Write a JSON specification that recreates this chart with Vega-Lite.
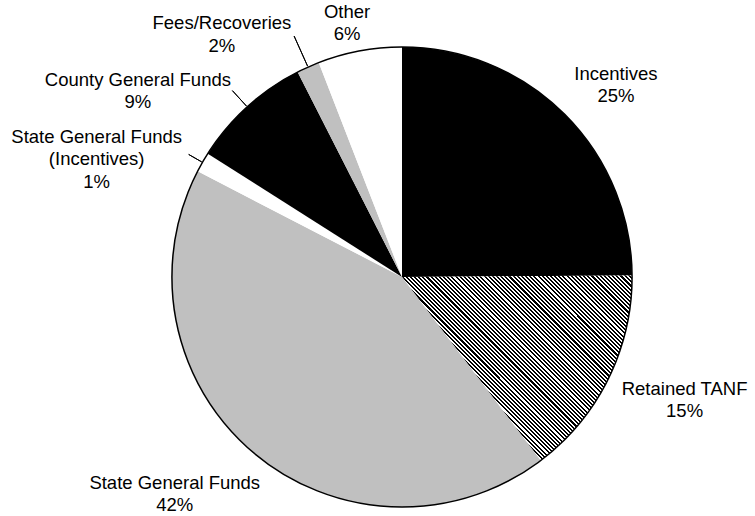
{
  "$schema": "https://vega.github.io/schema/vega-lite/v6.json",
  "width": 706,
  "height": 478,
  "autosize": {"type": "none"},
  "padding": {"left": 49, "top": 38, "right": 0, "bottom": 0},
  "background": "white",
  "config": {
    "view": {"stroke": null},
    "text": {"font": "Liberation Sans", "fontSize": 18.5, "lineBreak": "\n", "lineHeight": 22.5, "align": "center", "baseline": "middle", "color": "#000"}
  },
  "data": {
    "values": [
      {"cat": "Incentives", "share": 24.9, "ord": 1, "label": "Incentives\n25%"},
      {"cat": "Retained TANF", "share": 14.8, "ord": 2, "label": "Retained TANF\n15%"},
      {"cat": "State General Funds", "share": 42.9, "ord": 3, "label": "State General Funds\n42%"},
      {"cat": "State General Funds (Incentives)", "share": 1.4, "ord": 4, "label": "State General Funds\n(Incentives)\n1%"},
      {"cat": "County General Funds", "share": 8.5, "ord": 5, "label": "County General Funds\n9%"},
      {"cat": "Fees/Recoveries", "share": 1.6, "ord": 6, "label": "Fees/Recoveries\n2%"},
      {"cat": "Other", "share": 5.9, "ord": 7, "label": "Other\n6%"}
    ]
  },
  "layer": [
    {
      "mark": {"type": "arc", "radius": 230},
      "encoding": {
        "theta": {"field": "share", "type": "quantitative", "stack": true},
        "order": {"field": "ord", "type": "quantitative"},
        "color": {
          "condition": {
            "test": "datum.cat === 'Retained TANF'",
            "value": {
              "gradient": "linear", "x1": 0, "y1": 1, "x2": 1.0957, "y2": 0.1191,
              "stops": [
{"offset":0,"color":"#000"},
{"offset":0.005,"color":"#000"},{"offset":0.005,"color":"#fff"},{"offset":0.01,"color":"#fff"},{"offset":0.01,"color":"#000"},
{"offset":0.015,"color":"#000"},{"offset":0.015,"color":"#fff"},{"offset":0.02,"color":"#fff"},{"offset":0.02,"color":"#000"},
{"offset":0.025,"color":"#000"},{"offset":0.025,"color":"#fff"},{"offset":0.03,"color":"#fff"},{"offset":0.03,"color":"#000"},
{"offset":0.035,"color":"#000"},{"offset":0.035,"color":"#fff"},{"offset":0.04,"color":"#fff"},{"offset":0.04,"color":"#000"},
{"offset":0.045,"color":"#000"},{"offset":0.045,"color":"#fff"},{"offset":0.05,"color":"#fff"},{"offset":0.05,"color":"#000"},
{"offset":0.055,"color":"#000"},{"offset":0.055,"color":"#fff"},{"offset":0.06,"color":"#fff"},{"offset":0.06,"color":"#000"},
{"offset":0.065,"color":"#000"},{"offset":0.065,"color":"#fff"},{"offset":0.07,"color":"#fff"},{"offset":0.07,"color":"#000"},
{"offset":0.075,"color":"#000"},{"offset":0.075,"color":"#fff"},{"offset":0.08,"color":"#fff"},{"offset":0.08,"color":"#000"},
{"offset":0.085,"color":"#000"},{"offset":0.085,"color":"#fff"},{"offset":0.09,"color":"#fff"},{"offset":0.09,"color":"#000"},
{"offset":0.095,"color":"#000"},{"offset":0.095,"color":"#fff"},{"offset":0.1,"color":"#fff"},{"offset":0.1,"color":"#000"},
{"offset":0.105,"color":"#000"},{"offset":0.105,"color":"#fff"},{"offset":0.11,"color":"#fff"},{"offset":0.11,"color":"#000"},
{"offset":0.115,"color":"#000"},{"offset":0.115,"color":"#fff"},{"offset":0.12,"color":"#fff"},{"offset":0.12,"color":"#000"},
{"offset":0.125,"color":"#000"},{"offset":0.125,"color":"#fff"},{"offset":0.13,"color":"#fff"},{"offset":0.13,"color":"#000"},
{"offset":0.135,"color":"#000"},{"offset":0.135,"color":"#fff"},{"offset":0.14,"color":"#fff"},{"offset":0.14,"color":"#000"},
{"offset":0.145,"color":"#000"},{"offset":0.145,"color":"#fff"},{"offset":0.15,"color":"#fff"},{"offset":0.15,"color":"#000"},
{"offset":0.155,"color":"#000"},{"offset":0.155,"color":"#fff"},{"offset":0.16,"color":"#fff"},{"offset":0.16,"color":"#000"},
{"offset":0.165,"color":"#000"},{"offset":0.165,"color":"#fff"},{"offset":0.17,"color":"#fff"},{"offset":0.17,"color":"#000"},
{"offset":0.175,"color":"#000"},{"offset":0.175,"color":"#fff"},{"offset":0.18,"color":"#fff"},{"offset":0.18,"color":"#000"},
{"offset":0.185,"color":"#000"},{"offset":0.185,"color":"#fff"},{"offset":0.19,"color":"#fff"},{"offset":0.19,"color":"#000"},
{"offset":0.195,"color":"#000"},{"offset":0.195,"color":"#fff"},{"offset":0.2,"color":"#fff"},{"offset":0.2,"color":"#000"},
{"offset":0.205,"color":"#000"},{"offset":0.205,"color":"#fff"},{"offset":0.21,"color":"#fff"},{"offset":0.21,"color":"#000"},
{"offset":0.215,"color":"#000"},{"offset":0.215,"color":"#fff"},{"offset":0.22,"color":"#fff"},{"offset":0.22,"color":"#000"},
{"offset":0.225,"color":"#000"},{"offset":0.225,"color":"#fff"},{"offset":0.23,"color":"#fff"},{"offset":0.23,"color":"#000"},
{"offset":0.235,"color":"#000"},{"offset":0.235,"color":"#fff"},{"offset":0.24,"color":"#fff"},{"offset":0.24,"color":"#000"},
{"offset":0.245,"color":"#000"},{"offset":0.245,"color":"#fff"},{"offset":0.25,"color":"#fff"},{"offset":0.25,"color":"#000"},
{"offset":0.255,"color":"#000"},{"offset":0.255,"color":"#fff"},{"offset":0.26,"color":"#fff"},{"offset":0.26,"color":"#000"},
{"offset":0.265,"color":"#000"},{"offset":0.265,"color":"#fff"},{"offset":0.27,"color":"#fff"},{"offset":0.27,"color":"#000"},
{"offset":0.275,"color":"#000"},{"offset":0.275,"color":"#fff"},{"offset":0.28,"color":"#fff"},{"offset":0.28,"color":"#000"},
{"offset":0.285,"color":"#000"},{"offset":0.285,"color":"#fff"},{"offset":0.29,"color":"#fff"},{"offset":0.29,"color":"#000"},
{"offset":0.295,"color":"#000"},{"offset":0.295,"color":"#fff"},{"offset":0.3,"color":"#fff"},{"offset":0.3,"color":"#000"},
{"offset":0.305,"color":"#000"},{"offset":0.305,"color":"#fff"},{"offset":0.31,"color":"#fff"},{"offset":0.31,"color":"#000"},
{"offset":0.315,"color":"#000"},{"offset":0.315,"color":"#fff"},{"offset":0.32,"color":"#fff"},{"offset":0.32,"color":"#000"},
{"offset":0.325,"color":"#000"},{"offset":0.325,"color":"#fff"},{"offset":0.33,"color":"#fff"},{"offset":0.33,"color":"#000"},
{"offset":0.335,"color":"#000"},{"offset":0.335,"color":"#fff"},{"offset":0.34,"color":"#fff"},{"offset":0.34,"color":"#000"},
{"offset":0.345,"color":"#000"},{"offset":0.345,"color":"#fff"},{"offset":0.35,"color":"#fff"},{"offset":0.35,"color":"#000"},
{"offset":0.355,"color":"#000"},{"offset":0.355,"color":"#fff"},{"offset":0.36,"color":"#fff"},{"offset":0.36,"color":"#000"},
{"offset":0.365,"color":"#000"},{"offset":0.365,"color":"#fff"},{"offset":0.37,"color":"#fff"},{"offset":0.37,"color":"#000"},
{"offset":0.375,"color":"#000"},{"offset":0.375,"color":"#fff"},{"offset":0.38,"color":"#fff"},{"offset":0.38,"color":"#000"},
{"offset":0.385,"color":"#000"},{"offset":0.385,"color":"#fff"},{"offset":0.39,"color":"#fff"},{"offset":0.39,"color":"#000"},
{"offset":0.395,"color":"#000"},{"offset":0.395,"color":"#fff"},{"offset":0.4,"color":"#fff"},{"offset":0.4,"color":"#000"},
{"offset":0.405,"color":"#000"},{"offset":0.405,"color":"#fff"},{"offset":0.41,"color":"#fff"},{"offset":0.41,"color":"#000"},
{"offset":0.415,"color":"#000"},{"offset":0.415,"color":"#fff"},{"offset":0.42,"color":"#fff"},{"offset":0.42,"color":"#000"},
{"offset":0.425,"color":"#000"},{"offset":0.425,"color":"#fff"},{"offset":0.43,"color":"#fff"},{"offset":0.43,"color":"#000"},
{"offset":0.435,"color":"#000"},{"offset":0.435,"color":"#fff"},{"offset":0.44,"color":"#fff"},{"offset":0.44,"color":"#000"},
{"offset":0.445,"color":"#000"},{"offset":0.445,"color":"#fff"},{"offset":0.45,"color":"#fff"},{"offset":0.45,"color":"#000"},
{"offset":0.455,"color":"#000"},{"offset":0.455,"color":"#fff"},{"offset":0.46,"color":"#fff"},{"offset":0.46,"color":"#000"},
{"offset":0.465,"color":"#000"},{"offset":0.465,"color":"#fff"},{"offset":0.47,"color":"#fff"},{"offset":0.47,"color":"#000"},
{"offset":0.475,"color":"#000"},{"offset":0.475,"color":"#fff"},{"offset":0.48,"color":"#fff"},{"offset":0.48,"color":"#000"},
{"offset":0.485,"color":"#000"},{"offset":0.485,"color":"#fff"},{"offset":0.49,"color":"#fff"},{"offset":0.49,"color":"#000"},
{"offset":0.495,"color":"#000"},{"offset":0.495,"color":"#fff"},{"offset":0.5,"color":"#fff"},{"offset":0.5,"color":"#000"},
{"offset":0.505,"color":"#000"},{"offset":0.505,"color":"#fff"},{"offset":0.51,"color":"#fff"},{"offset":0.51,"color":"#000"},
{"offset":0.515,"color":"#000"},{"offset":0.515,"color":"#fff"},{"offset":0.52,"color":"#fff"},{"offset":0.52,"color":"#000"},
{"offset":0.525,"color":"#000"},{"offset":0.525,"color":"#fff"},{"offset":0.53,"color":"#fff"},{"offset":0.53,"color":"#000"},
{"offset":0.535,"color":"#000"},{"offset":0.535,"color":"#fff"},{"offset":0.54,"color":"#fff"},{"offset":0.54,"color":"#000"},
{"offset":0.545,"color":"#000"},{"offset":0.545,"color":"#fff"},{"offset":0.55,"color":"#fff"},{"offset":0.55,"color":"#000"},
{"offset":0.555,"color":"#000"},{"offset":0.555,"color":"#fff"},{"offset":0.56,"color":"#fff"},{"offset":0.56,"color":"#000"},
{"offset":0.565,"color":"#000"},{"offset":0.565,"color":"#fff"},{"offset":0.57,"color":"#fff"},{"offset":0.57,"color":"#000"},
{"offset":0.575,"color":"#000"},{"offset":0.575,"color":"#fff"},{"offset":0.58,"color":"#fff"},{"offset":0.58,"color":"#000"},
{"offset":0.585,"color":"#000"},{"offset":0.585,"color":"#fff"},{"offset":0.59,"color":"#fff"},{"offset":0.59,"color":"#000"},
{"offset":0.595,"color":"#000"},{"offset":0.595,"color":"#fff"},{"offset":0.6,"color":"#fff"},{"offset":0.6,"color":"#000"},
{"offset":0.605,"color":"#000"},{"offset":0.605,"color":"#fff"},{"offset":0.61,"color":"#fff"},{"offset":0.61,"color":"#000"},
{"offset":0.615,"color":"#000"},{"offset":0.615,"color":"#fff"},{"offset":0.62,"color":"#fff"},{"offset":0.62,"color":"#000"},
{"offset":0.625,"color":"#000"},{"offset":0.625,"color":"#fff"},{"offset":0.63,"color":"#fff"},{"offset":0.63,"color":"#000"},
{"offset":0.635,"color":"#000"},{"offset":0.635,"color":"#fff"},{"offset":0.64,"color":"#fff"},{"offset":0.64,"color":"#000"},
{"offset":0.645,"color":"#000"},{"offset":0.645,"color":"#fff"},{"offset":0.65,"color":"#fff"},{"offset":0.65,"color":"#000"},
{"offset":0.655,"color":"#000"},{"offset":0.655,"color":"#fff"},{"offset":0.66,"color":"#fff"},{"offset":0.66,"color":"#000"},
{"offset":0.665,"color":"#000"},{"offset":0.665,"color":"#fff"},{"offset":0.67,"color":"#fff"},{"offset":0.67,"color":"#000"},
{"offset":0.675,"color":"#000"},{"offset":0.675,"color":"#fff"},{"offset":0.68,"color":"#fff"},{"offset":0.68,"color":"#000"},
{"offset":0.685,"color":"#000"},{"offset":0.685,"color":"#fff"},{"offset":0.69,"color":"#fff"},{"offset":0.69,"color":"#000"},
{"offset":0.695,"color":"#000"},{"offset":0.695,"color":"#fff"},{"offset":0.7,"color":"#fff"},{"offset":0.7,"color":"#000"},
{"offset":0.705,"color":"#000"},{"offset":0.705,"color":"#fff"},{"offset":0.71,"color":"#fff"},{"offset":0.71,"color":"#000"},
{"offset":0.715,"color":"#000"},{"offset":0.715,"color":"#fff"},{"offset":0.72,"color":"#fff"},{"offset":0.72,"color":"#000"},
{"offset":0.725,"color":"#000"},{"offset":0.725,"color":"#fff"},{"offset":0.73,"color":"#fff"},{"offset":0.73,"color":"#000"},
{"offset":0.735,"color":"#000"},{"offset":0.735,"color":"#fff"},{"offset":0.74,"color":"#fff"},{"offset":0.74,"color":"#000"},
{"offset":0.745,"color":"#000"},{"offset":0.745,"color":"#fff"},{"offset":0.75,"color":"#fff"},{"offset":0.75,"color":"#000"},
{"offset":0.755,"color":"#000"},{"offset":0.755,"color":"#fff"},{"offset":0.76,"color":"#fff"},{"offset":0.76,"color":"#000"},
{"offset":0.765,"color":"#000"},{"offset":0.765,"color":"#fff"},{"offset":0.77,"color":"#fff"},{"offset":0.77,"color":"#000"},
{"offset":0.775,"color":"#000"},{"offset":0.775,"color":"#fff"},{"offset":0.78,"color":"#fff"},{"offset":0.78,"color":"#000"},
{"offset":0.785,"color":"#000"},{"offset":0.785,"color":"#fff"},{"offset":0.79,"color":"#fff"},{"offset":0.79,"color":"#000"},
{"offset":0.795,"color":"#000"},{"offset":0.795,"color":"#fff"},{"offset":0.8,"color":"#fff"},{"offset":0.8,"color":"#000"},
{"offset":0.805,"color":"#000"},{"offset":0.805,"color":"#fff"},{"offset":0.81,"color":"#fff"},{"offset":0.81,"color":"#000"},
{"offset":0.815,"color":"#000"},{"offset":0.815,"color":"#fff"},{"offset":0.82,"color":"#fff"},{"offset":0.82,"color":"#000"},
{"offset":0.825,"color":"#000"},{"offset":0.825,"color":"#fff"},{"offset":0.83,"color":"#fff"},{"offset":0.83,"color":"#000"},
{"offset":0.835,"color":"#000"},{"offset":0.835,"color":"#fff"},{"offset":0.84,"color":"#fff"},{"offset":0.84,"color":"#000"},
{"offset":0.845,"color":"#000"},{"offset":0.845,"color":"#fff"},{"offset":0.85,"color":"#fff"},{"offset":0.85,"color":"#000"},
{"offset":0.855,"color":"#000"},{"offset":0.855,"color":"#fff"},{"offset":0.86,"color":"#fff"},{"offset":0.86,"color":"#000"},
{"offset":0.865,"color":"#000"},{"offset":0.865,"color":"#fff"},{"offset":0.87,"color":"#fff"},{"offset":0.87,"color":"#000"},
{"offset":0.875,"color":"#000"},{"offset":0.875,"color":"#fff"},{"offset":0.88,"color":"#fff"},{"offset":0.88,"color":"#000"},
{"offset":0.885,"color":"#000"},{"offset":0.885,"color":"#fff"},{"offset":0.89,"color":"#fff"},{"offset":0.89,"color":"#000"},
{"offset":0.895,"color":"#000"},{"offset":0.895,"color":"#fff"},{"offset":0.9,"color":"#fff"},{"offset":0.9,"color":"#000"},
{"offset":0.905,"color":"#000"},{"offset":0.905,"color":"#fff"},{"offset":0.91,"color":"#fff"},{"offset":0.91,"color":"#000"},
{"offset":0.915,"color":"#000"},{"offset":0.915,"color":"#fff"},{"offset":0.92,"color":"#fff"},{"offset":0.92,"color":"#000"},
{"offset":0.925,"color":"#000"},{"offset":0.925,"color":"#fff"},{"offset":0.93,"color":"#fff"},{"offset":0.93,"color":"#000"},
{"offset":0.935,"color":"#000"},{"offset":0.935,"color":"#fff"},{"offset":0.94,"color":"#fff"},{"offset":0.94,"color":"#000"},
{"offset":0.945,"color":"#000"},{"offset":0.945,"color":"#fff"},{"offset":0.95,"color":"#fff"},{"offset":0.95,"color":"#000"},
{"offset":0.955,"color":"#000"},{"offset":0.955,"color":"#fff"},{"offset":0.96,"color":"#fff"},{"offset":0.96,"color":"#000"},
{"offset":0.965,"color":"#000"},{"offset":0.965,"color":"#fff"},{"offset":0.97,"color":"#fff"},{"offset":0.97,"color":"#000"},
{"offset":0.975,"color":"#000"},{"offset":0.975,"color":"#fff"},{"offset":0.98,"color":"#fff"},{"offset":0.98,"color":"#000"},
{"offset":0.985,"color":"#000"},{"offset":0.985,"color":"#fff"},{"offset":0.99,"color":"#fff"},{"offset":0.99,"color":"#000"},
{"offset":0.995,"color":"#000"},{"offset":0.995,"color":"#fff"},{"offset":1,"color":"#fff"}
              ]
            }
          },
          "field": "cat",
          "type": "nominal",
          "scale": {
            "domain": ["Incentives", "Retained TANF", "State General Funds", "State General Funds (Incentives)", "County General Funds", "Fees/Recoveries", "Other"],
            "range": ["#000000", "#808080", "#c0c0c0", "#ffffff", "#000000", "#c0c0c0", "#ffffff"]
          },
          "legend": null
        }
      }
    },
    {
      "data": {"values": [{"ring": 1}]},
      "mark": {"type": "arc", "radius": 230, "theta": 0, "theta2": 6.283185307179586, "filled": false, "color": "#000", "strokeWidth": 1.5},
      "encoding": {}
    },
    {
      "mark": {"type": "arc", "filled": false, "radius": 264, "radius2": 231, "padAngle": 0.8, "strokeWidth": 1},
      "encoding": {
        "theta": {"field": "share", "type": "quantitative", "stack": true},
        "order": {"field": "ord", "type": "quantitative"},
        "detail": {"field": "cat", "type": "nominal"},
        "color": {"condition": {"test": "datum.cat === 'Fees/Recoveries'", "value": "#000"}, "value": "transparent"}
      }
    },
    {
      "mark": {"type": "arc", "filled": false, "radius": 252, "radius2": 231, "padAngle": 0.8, "strokeWidth": 1},
      "encoding": {
        "theta": {"field": "share", "type": "quantitative", "stack": true},
        "order": {"field": "ord", "type": "quantitative"},
        "detail": {"field": "cat", "type": "nominal"},
        "color": {"condition": {"test": "datum.cat === 'County General Funds'", "value": "#000"}, "value": "transparent"}
      }
    },
    {
      "mark": {"type": "arc", "filled": false, "radius": 246, "radius2": 231, "padAngle": 0.8, "strokeWidth": 1},
      "encoding": {
        "theta": {"field": "share", "type": "quantitative", "stack": true},
        "order": {"field": "ord", "type": "quantitative"},
        "detail": {"field": "cat", "type": "nominal"},
        "color": {"condition": {"test": "datum.cat === 'State General Funds (Incentives)'", "value": "#000"}, "value": "transparent"}
      }
    },
    {
      "mark": {"type": "text", "radius": 295, "dx": 6, "dy": 6},
      "encoding": {
        "theta": {"field": "share", "type": "quantitative", "stack": true},
        "order": {"field": "ord", "type": "quantitative"},
        "detail": {"field": "cat", "type": "nominal"},
        "text": {"condition": {"test": "datum.cat === 'Incentives'", "field": "label", "type": "nominal"}, "value": ""}
      }
    },
    {
      "mark": {"type": "text", "radius": 304, "dx": 10, "dy": -23},
      "encoding": {
        "theta": {"field": "share", "type": "quantitative", "stack": true},
        "order": {"field": "ord", "type": "quantitative"},
        "detail": {"field": "cat", "type": "nominal"},
        "text": {"condition": {"test": "datum.cat === 'Retained TANF'", "field": "label", "type": "nominal"}, "value": ""}
      }
    },
    {
      "mark": {"type": "text", "radius": 306, "dx": -30, "dy": -28},
      "encoding": {
        "theta": {"field": "share", "type": "quantitative", "stack": true},
        "order": {"field": "ord", "type": "quantitative"},
        "detail": {"field": "cat", "type": "nominal"},
        "text": {"condition": {"test": "datum.cat === 'State General Funds'", "field": "label", "type": "nominal"}, "value": ""}
      }
    },
    {
      "mark": {"type": "text", "radius": 336, "dx": -14, "dy": 27},
      "encoding": {
        "theta": {"field": "share", "type": "quantitative", "stack": true},
        "order": {"field": "ord", "type": "quantitative"},
        "detail": {"field": "cat", "type": "nominal"},
        "text": {"condition": {"test": "datum.cat === 'State General Funds (Incentives)'", "field": "label", "type": "nominal"}, "value": ""}
      }
    },
    {
      "mark": {"type": "text", "radius": 330, "dx": -42, "dy": 47},
      "encoding": {
        "theta": {"field": "share", "type": "quantitative", "stack": true},
        "order": {"field": "ord", "type": "quantitative"},
        "detail": {"field": "cat", "type": "nominal"},
        "text": {"condition": {"test": "datum.cat === 'County General Funds'", "field": "label", "type": "nominal"}, "value": ""}
      }
    },
    {
      "mark": {"type": "text", "radius": 311, "dx": -53, "dy": 30},
      "encoding": {
        "theta": {"field": "share", "type": "quantitative", "stack": true},
        "order": {"field": "ord", "type": "quantitative"},
        "detail": {"field": "cat", "type": "nominal"},
        "text": {"condition": {"test": "datum.cat === 'Fees/Recoveries'", "field": "label", "type": "nominal"}, "value": ""}
      }
    },
    {
      "mark": {"type": "text", "radius": 271, "dx": -5, "dy": 1},
      "encoding": {
        "theta": {"field": "share", "type": "quantitative", "stack": true},
        "order": {"field": "ord", "type": "quantitative"},
        "detail": {"field": "cat", "type": "nominal"},
        "text": {"condition": {"test": "datum.cat === 'Other'", "field": "label", "type": "nominal"}, "value": ""}
      }
    }
  ]
}
